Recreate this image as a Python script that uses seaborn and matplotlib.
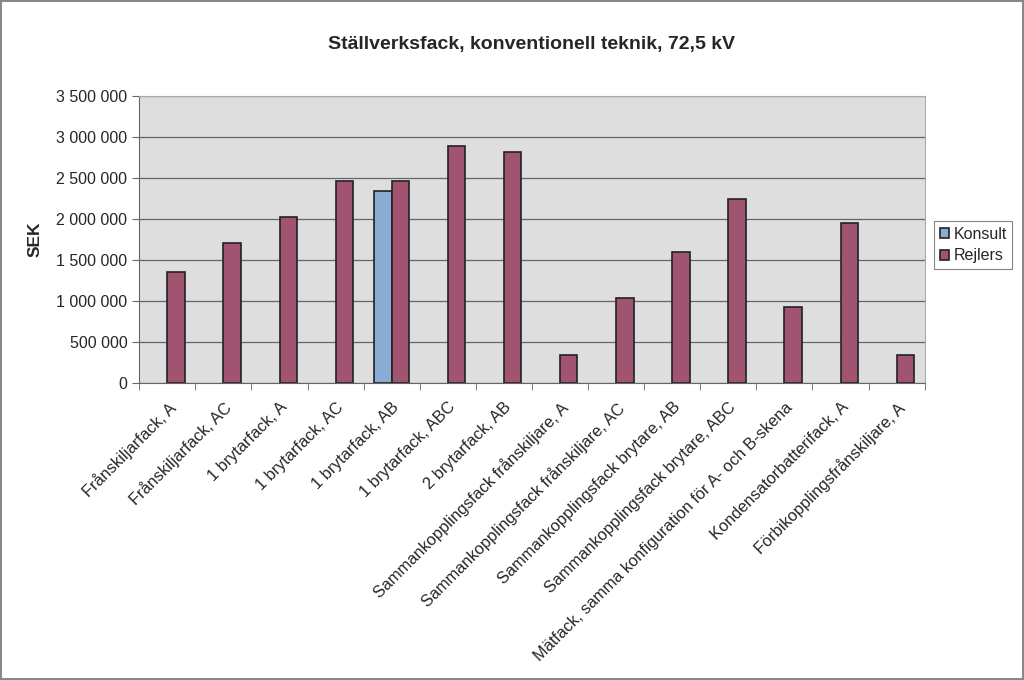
import numpy as np
import pandas as pd
import matplotlib
matplotlib.use("Agg")
import matplotlib.pyplot as plt
import seaborn as sns
from matplotlib.ticker import FuncFormatter, FixedLocator

# data
categories = [
    "Frånskiljarfack, A",
    "Frånskiljarfack, AC",
    "1 brytarfack, A",
    "1 brytarfack, AC",
    "1 brytarfack, AB",
    "1 brytarfack, ABC",
    "2 brytarfack, AB",
    "Sammankopplingsfack frånskiljare, A",
    "Sammankopplingsfack frånskiljare, AC",
    "Sammankopplingsfack brytare, AB",
    "Sammankopplingsfack brytare, ABC",
    "Mätfack, samma konfiguration för A- och B-skena",
    "Kondensatorbatterifack, A",
    "Förbikopplingsfrånskiljare, A",
]
konsult = [np.nan, np.nan, np.nan, np.nan, 2340000, np.nan, np.nan,
           np.nan, np.nan, np.nan, np.nan, np.nan, np.nan, np.nan]
rejlers = [1350000, 1700000, 2020000, 2460000, 2460000, 2890000, 2810000,
           340000, 1030000, 1595000, 2240000, 930000, 1945000, 335000]
series = ["Konsult", "Rejlers"]
colors = ["#7eaae0", "#ad476f"]
y_ticks = [0, 500000, 1000000, 1500000, 2000000, 2500000, 3000000, 3500000]

df = pd.DataFrame({
    "Fack": categories * 2,
    "Serie": ["Konsult"] * len(categories) + ["Rejlers"] * len(categories),
    "SEK": konsult + rejlers,
})

sns.set_style("white")
plt.rcParams["font.family"] = ["Liberation Sans", "DejaVu Sans"]

fig = plt.figure(figsize=(10.24, 6.8), dpi=100)
fig.patch.set_edgecolor("#888888")
fig.patch.set_linewidth(1.5)
ax = fig.add_axes([0.136, 0.437, 0.767, 0.422])

sns.barplot(data=df, x="Fack", y="SEK", hue="Serie", hue_order=series,
            palette=colors, width=0.62, edgecolor="#222222", linewidth=1.2,
            errorbar=None, ax=ax, legend=True)

ax.set_facecolor("#dedede")
ax.set_ylim(0, 3500000)
ax.set_xlim(-0.5, len(categories) - 0.5)
ax.yaxis.set_major_locator(FixedLocator(y_ticks))
ax.yaxis.set_major_formatter(FuncFormatter(lambda v, p: f"{int(v):,}".replace(",", " ")))
ax.grid(axis="y", color="#666666", linewidth=0.9)
ax.set_axisbelow(True)
for side in ["top", "right"]:
    ax.spines[side].set_color("#aaaaaa")
for side in ["left", "bottom"]:
    ax.spines[side].set_color("#666666")

ax.tick_params(axis="y", which="major", length=5, direction="out", color="#666666",
               labelsize=11.5, left=True)
ax.tick_params(axis="x", which="major", length=0, labelsize=11.8, pad=12)
ax.set_xticks(np.arange(len(categories) + 1) - 0.5, minor=True)
ax.tick_params(axis="x", which="minor", length=5, direction="out", color="#666666", bottom=True)
ax.set_xticks(np.arange(len(categories)))
ax.set_xticklabels(categories, rotation=45, ha="right", rotation_mode="anchor")

ax.set_xlabel("")
ax.set_ylabel("SEK", fontsize=12.5, fontweight="bold", labelpad=10)
ax.set_title("Ställverksfack, konventionell teknik, 72,5 kV", fontsize=14,
             fontweight="bold", pad=34)

leg = ax.legend(loc="center left", bbox_to_anchor=(1.012, 0.48), fontsize=11.5,
                frameon=True, fancybox=False, edgecolor="#666666",
                handlelength=0.6, handleheight=0.6, handletextpad=0.25,
                borderpad=0.35, borderaxespad=0.0, labelspacing=0.4)
leg.get_frame().set_linewidth(0.8)

fig.savefig("out.png", dpi=100)
